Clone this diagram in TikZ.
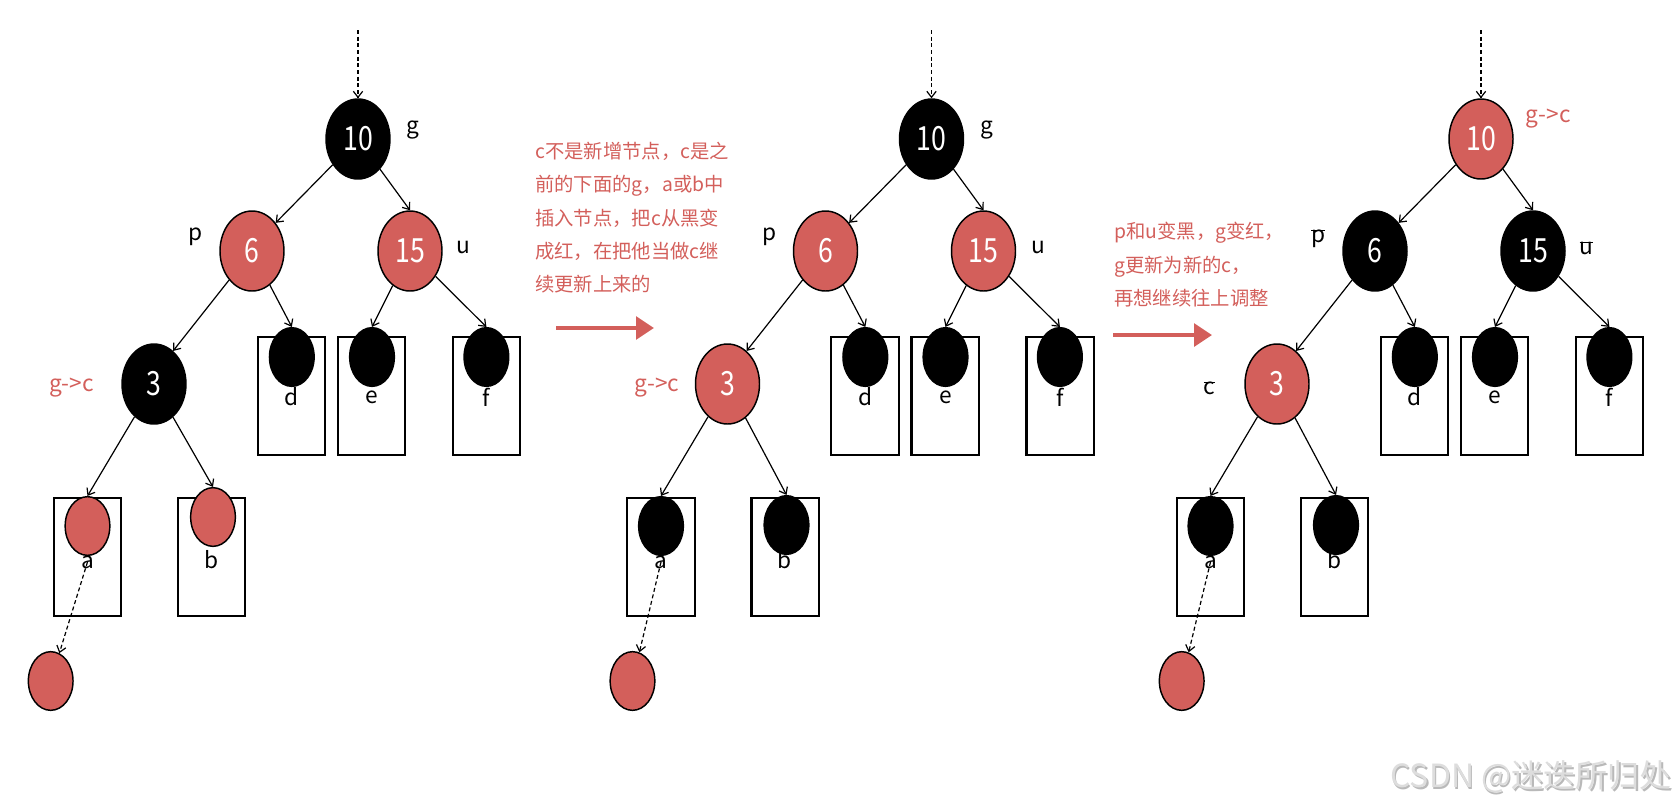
\documentclass[tikz,border=0pt]{standalone}
\usepackage{fontspec}
\setmainfont{Noto Sans CJK SC}
\usetikzlibrary{arrows.meta,shapes.geometric}
\definecolor{rbred}{HTML}{D35F5B}
\definecolor{markgray}{HTML}{DDDDDD}
\tikzset{
  rbnode/.style  = {ellipse,draw=black,line width=1.1pt,inner sep=0pt,
                    minimum width=48pt,minimum height=60pt,text=white,
                    font=\fontsize{25}{25}\selectfont},
  leaf/.style    = {ellipse,draw=black,line width=1.1pt,inner sep=0pt,
                    minimum width=33.5pt,minimum height=44pt},
  leafbox/.style = {draw,line width=1.6pt,minimum width=50.5pt,
                    minimum height=89pt,inner sep=0pt},
  lbl/.style     = {inner sep=0pt,font=\fontsize{17}{17}\selectfont},
  redlbl/.style  = {lbl,text=rbred},
  note/.style    = {align=left,anchor=north west,inner sep=0pt,text=rbred,
                    font=\fontsize{14.5}{25}\selectfont},
  edge/.style    = {-{Straight Barb[length=4.5pt,width=7pt]},line width=0.9pt},
  dotedge/.style = {edge,dash pattern=on 3pt off 2pt},
  bigarr/.style  = {-{Triangle[length=13.5pt,width=17pt]},line width=3pt,
                    draw=rbred},
}
\newcommand{\nodenum}[1]{\scalebox{0.8}[1]{#1}}
\newcommand{\struck}[1]{%
  \setbox0=\hbox{#1}\rlap{\rule[0.5em]{\wd0}{0.06em}}\box0}
% one tree: prefix, xshift, fills of 10/6/15/3, fill of a and b,
% x of the new red node, y of the b circle
\newcommand{\rbpanel}[9]{%
  \begin{scope}[xshift=#2*0.75pt]
    \coordinate (#1-top) at (358,30);
    \node[rbnode,fill=#3] (#1-n10) at (358,139) {\nodenum{10}};
    \node[rbnode,fill=#4] (#1-n6)  at (252,251) {\nodenum{6}};
    \node[rbnode,fill=#5] (#1-n15) at (410,251) {\nodenum{15}};
    \node[rbnode,fill=#6] (#1-n3)  at (154,384) {\nodenum{3}};
    % leaf boxes
    \node[leafbox] (#1-bd) at (291.5,396) {};
    \node[leafbox] (#1-be) at (371.7,396) {};
    \node[leafbox] (#1-bf) at (486.7,396) {};
    \node[leafbox] (#1-ba) at (87.5,557) {};
    \node[leafbox] (#1-bb) at (211.7,557) {};
    \node[lbl] (#1-ld) at (291.8,397) {d};
    \node[lbl] (#1-le) at (372,397) {e};
    \node[lbl] (#1-lf) at (486.4,397) {f};
    \node[lbl] (#1-la) at (87.5,562) {a};
    \node[lbl] (#1-lb) at (211.4,560) {b};
    \node[leaf,fill=black] (#1-d) at (291.8,357) {};
    \node[leaf,fill=black] (#1-e) at (372,357) {};
    \node[leaf,fill=black] (#1-f) at (486.4,357) {};
    \node[leaf,fill=#7] (#1-a) at (87.5,526) {};
    \node[leaf,fill=#7] (#1-b) at (213,#9) {};
    \node[leaf,fill=rbred] (#1-new) at (#8,681) {};
    % links
    \draw[dotedge] (#1-top) -- (#1-n10.north);
    \draw[edge] (#1-n10) -- (#1-n6.50);
    \draw[edge] (#1-n10) -- (#1-n15.north);
    \draw[edge] (#1-n6) -- (#1-n3.60);
    \draw[edge] (#1-n6) -- (#1-d.north);
    \draw[edge] (#1-n15) -- (#1-e.north);
    \draw[edge] (#1-n15) -- (#1-f.north);
    \draw[edge] (#1-n3) -- (#1-a.north);
    \draw[edge] (#1-n3) -- (#1-b.north);
    \draw[dotedge] (#1-la.center) -- (#1-new);
  \end{scope}%
}

\begin{document}
\begin{tikzpicture}[x=0.75pt,y=-0.75pt]
  \useasboundingbox (0,0) rectangle (1678,808);

  \rbpanel{A}{0}{black}{rbred}{rbred}{black}{rbred}{50.7}{517}
  \rbpanel{B}{573.5}{black}{rbred}{rbred}{rbred}{black}{59}{525}
  \rbpanel{C}{1123}{rbred}{black}{black}{rbred}{black}{58.7}{525}

  % names
  \node[lbl] (A-g) at (412.5,130) {g};
  \node[lbl] (A-p) at (195.7,237) {p};
  \node[lbl] (A-u) at (463.6,247) {u};
  \node[redlbl] (A-gc) at (71.4,388) {g->c};
  \node[lbl] (B-g) at (986.8,130) {g};
  \node[lbl] (B-p) at (770,237) {p};
  \node[lbl] (B-u) at (1038.6,247) {u};
  \node[redlbl] (B-gc) at (657.1,388) {g->c};
  \node[redlbl] (C-gc) at (1548.3,119) {g->c};
  \node[lbl] (C-p) at (1318.3,239) {\struck{p}};
  \node[lbl] (C-u) at (1586.4,248) {\struck{u}};
  \node[lbl] (C-c) at (1209.6,388) {\struck{c}};

  % notes and steps
  \node[note] (note1) at (535,142)
    {c不是新增节点，c是之\\前的下面的g，a或b中\\插入节点，把c从黑变\\成红，在把他当做c继\\续更新上来的};
  \node[note] (note2) at (1114,222)
    {p和u变黑，g变红，\\g更新为新的c，\\再想继续往上调整};
  \coordinate (arrA) at (556,328);
  \coordinate (arrA-end) at (654,328);
  \draw[bigarr] (arrA) -- (arrA-end);
  \coordinate (arrB) at (1113,335);
  \coordinate (arrB-end) at (1212,335);
  \draw[bigarr] (arrB) -- (arrB-end);

  % watermark
  \node[font=\fontsize{24}{24}\selectfont,text=gray!55] (wm-shadow)
    at (1532.5,778.5) {CSDN @迷迭所归处};
  \node[font=\fontsize{24}{24}\selectfont,text=markgray] (wm)
    at (1531,777) {CSDN @迷迭所归处};
\end{tikzpicture}
\end{document}
